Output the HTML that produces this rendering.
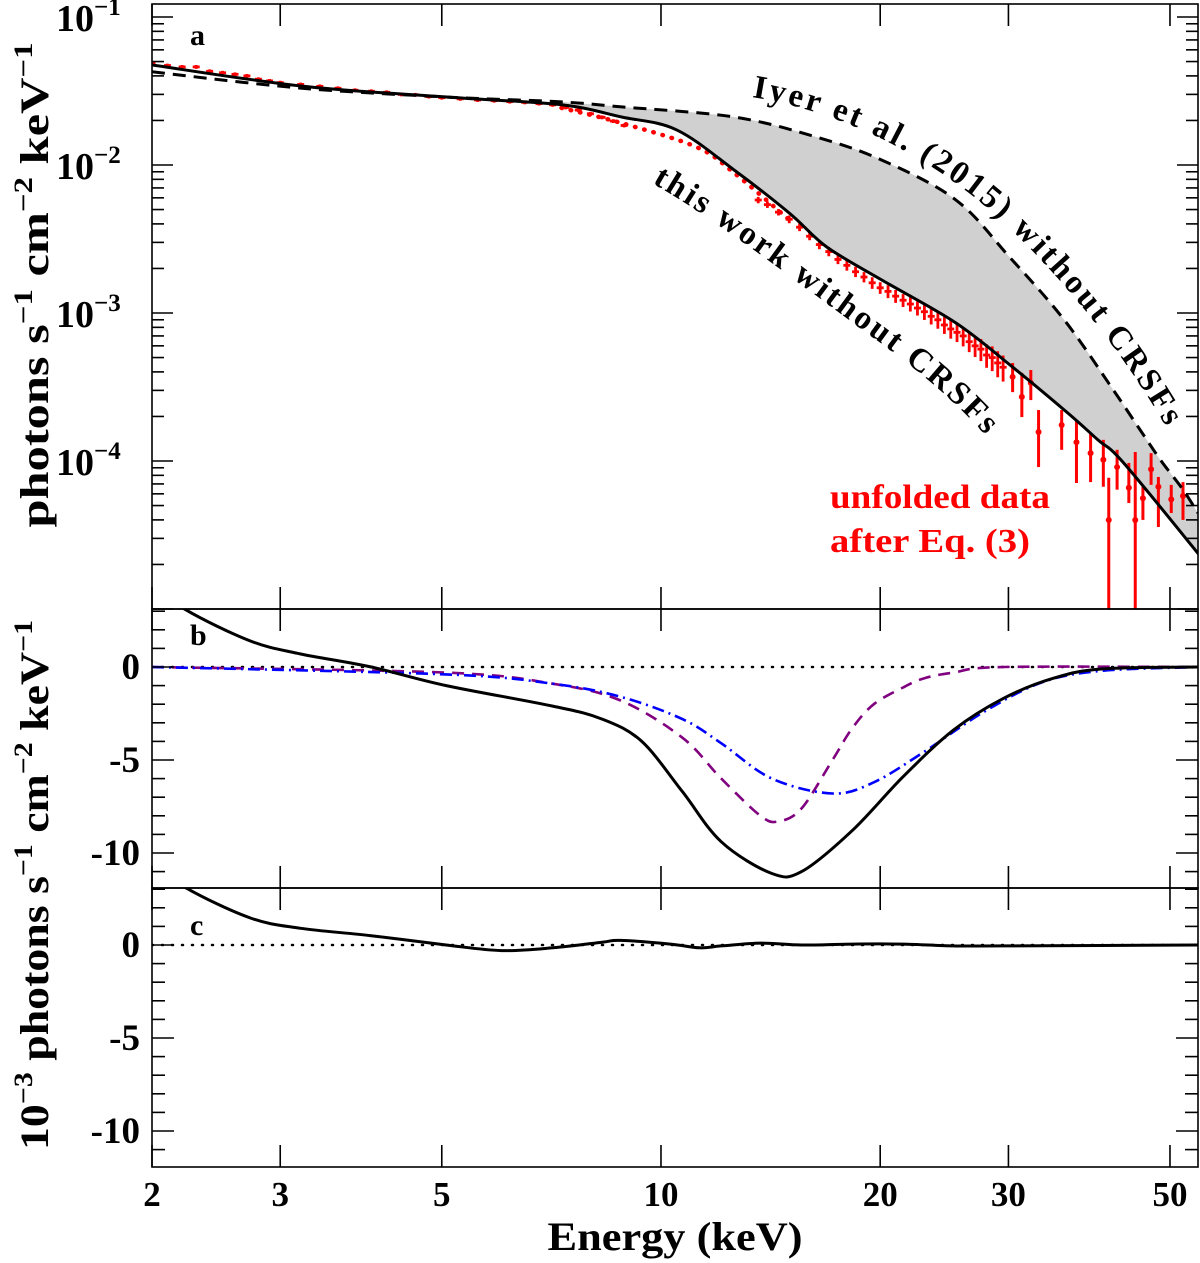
<!DOCTYPE html>
<html><head><meta charset="utf-8"><style>
html,body{margin:0;padding:0;background:#fff;}
svg{display:block;font-family:"Liberation Serif",serif;font-weight:bold;}
</style></head><body>
<svg id="chart" width="1200" height="1263" viewBox="0 0 1200 1263" xmlns="http://www.w3.org/2000/svg">
<defs>
<clipPath id="clipA"><rect x="152" y="4" width="1046" height="605"/></clipPath>
<clipPath id="clipB"><rect x="152" y="609" width="1046" height="279"/></clipPath>
<clipPath id="clipC"><rect x="152" y="888" width="1046" height="279"/></clipPath>
</defs>
</svg>
<script>
// ---------- data (panel a) ----------
const solidE=[2,3.2,5.07,7.3,8.83,10.5,12.6,15.0,16.9,20.1,25.4,30.4,36.2,39.8,43.2,55.3];
const solidF=[0.0474,0.0342,0.0288,0.0255,0.0211,0.0173,0.00925,0.00474,0.00279,0.00167,8.57e-4,4.31e-4,2.11e-4,1.39e-4,9.7e-5,2.21e-5];
const iyerE=[2,3.2,5.07,7.3,8.83,12.6,16.3,20.1,25.4,30.1,35.8,41.8,45.5,48.5,52.1,54.6];
const iyerF=[0.0426,0.0331,0.0288,0.0267,0.0247,0.0211,0.0155,0.0108,0.00581,0.00239,8.97e-4,3.02e-4,1.62e-4,1.02e-4,6.4e-5,4.46e-5];
const dotE=[7.3,8.83,11.2,12.6,15.0];
const dotF=[0.0243,0.0192,0.0132,0.00884,0.00426];
const lowE=[2.0,2.1,2.2,2.3,2.4,2.5,2.6,2.7,2.8,2.9,3.0,3.2,3.4,3.6,3.8,4.0,4.2,4.4,4.6,4.8,5.0,5.3,5.6,5.9,6.2,6.5,6.8,7.1,7.4,7.7,8.0,8.3,8.6,8.9,
 13.6,14,14.5,15,15.5,16,16.5,17,17.5,18,18.5,19,19.5,20,20.5,21,21.5,22,22.5,23,23.5,24,24.5,25,25.5,26,26.5,27,27.5,28,28.5,29,29.5];
const lowF=[0.049,0.047,0.046,0.046,0.043,0.042,0.041,0.040,0.038,0.037,0.036,0.035,0.034,0.033,0.032,0.0315,0.031,0.030,0.0298,0.029,0.0285,0.028,0.0275,0.0272,0.0268,0.0265,0.026,0.0255,0.0245,0.0235,0.0222,0.021,0.0198,0.0185,
 0.0058,0.0054,0.0048,0.0043,0.0038,0.0033,0.0029,0.0026,0.0023,0.0021,0.0019,0.00175,0.0016,0.00148,0.0014,0.0013,0.00122,0.00115,0.00108,0.00102,0.00095,0.0009,0.00083,0.00078,0.00074,0.0007,0.00064,0.0006,0.00057,0.00052,0.0005,0.00046,0.00043];
const lowRelErr=[0.03,0.03,0.03,0.03,0.03,0.03,0.03,0.03,0.03,0.03,0.03,0.03,0.03,0.03,0.03,0.03,0.03,0.03,0.03,0.03,0.03,0.03,0.03,0.03,0.03,0.03,0.03,0.03,0.03,0.03,0.03,0.03,0.03,0.03,
 0.05,0.05,0.05,0.06,0.06,0.06,0.07,0.07,0.07,0.08,0.08,0.08,0.09,0.09,0.1,0.1,0.1,0.11,0.11,0.12,0.12,0.13,0.13,0.14,0.14,0.15,0.15,0.16,0.17,0.18,0.19,0.2,0.2];
const hiE=[30.4,31.3,32.2,33.0,35.5,37.2,38.9,40.5,41.2,42.3,43.9,44.8,45.9,47.1,48.2,50.2,52.1];
const hiF=[3.70e-4,2.71e-4,3.37e-4,1.57e-4,1.75e-4,1.34e-4,1.13e-4,1.02e-4,3.99e-5,9.1e-5,6.6e-5,3.99e-5,5.6e-5,8.8e-5,6.7e-5,5.5e-5,5.8e-5];
const hiTop=[4.59e-4,3.94e-4,4.12e-4,2.21e-4,2.21e-4,1.89e-4,1.55e-4,1.39e-4,7.7e-5,1.19e-4,9.7e-5,1.15e-4,6.7e-5,1.13e-4,7.8e-5,6.9e-5,7.2e-5];
const hiBot=[2.92e-4,1.98e-4,2.58e-4,9.1e-5,1.19e-4,7.1e-5,7.2e-5,6.7e-5,1e-6,6.4e-5,5.2e-5,1e-6,4.0e-5,6.9e-5,3.58e-5,4.45e-5,4.0e-5];
// ---------- data (panel b) ----------
const bSolidE=[2.0,2.22,2.73,3.2,4.0,5.07,7.1,8.3,9.41,10.7,12.1,14.2,15.6,18.3,21.5,25.2,29.5,34.6,40.5,55.3];
const bSolidV=[4.5,3.1,1.4,0.7,0,-1.0,-2.1,-2.8,-4.0,-6.7,-9.4,-11.1,-11.0,-8.8,-5.9,-3.4,-1.7,-0.6,-0.1,0];
const bPurpE=[2,5.07,7.1,8.8,10.7,12.1,13.7,14.5,15.6,17.2,18.3,19.6,21.5,23,25.2,29.5,55.3];
const bPurpV=[0,-0.3,-0.9,-1.8,-3.8,-6.0,-8.0,-8.3,-7.6,-5.0,-3.3,-2.0,-1.1,-0.6,-0.3,0,0];
const bBlueE=[2,5.07,7.1,8.8,10.7,12.1,14.2,17.2,19.6,22.9,27.8,33.5,40.5,55.3];
const bBlueV=[0,-0.4,-0.9,-1.6,-2.8,-4.1,-6.0,-6.8,-6.2,-4.6,-2.4,-0.8,-0.2,0];
// ---------- data (panel c) ----------
const cE=[2.0,2.22,2.73,3.2,4.0,5.07,6.04,7.1,8.3,8.8,10.3,11.3,12.1,13.7,15.6,18.3,21.5,25.2,29.5,55.3];
const cV=[4.5,3.1,1.45,0.9,0.5,0,-0.3,-0.15,0.15,0.25,0.05,-0.15,-0.05,0.1,0,0.05,0.05,-0.05,-0.05,0];
// ---------- axes ----------
const xTicks=[2,3,5,10,20,30,50];
const aDecades=[-5,-4,-3,-2,-1];
const aLabels=["10","10","10","10"];
const bTicks=[0,-5,-10];

const X0=152,X1=1198,PXD=728.2;
const xs=E=>X0+PXD*(Math.log10(E)-Math.log10(2));
const yA=F=>17-148*(Math.log10(F)+1);
const yB=v=>667-18.6*v;
const yC=v=>945-18.6*v;

const svg=document.getElementById('chart');
const NS='http://www.w3.org/2000/svg';
function el(tag,attrs,parent){const e=document.createElementNS(NS,tag);for(const k in attrs)e.setAttribute(k,attrs[k]);(parent||svg).appendChild(e);return e;}
function smooth(pts){
  let d='M'+pts[0][0].toFixed(1)+','+pts[0][1].toFixed(1);
  for(let i=0;i<pts.length-1;i++){
    const p0=pts[i-1]||pts[i],p1=pts[i],p2=pts[i+1],p3=pts[i+2]||p2;
    const c1=[p1[0]+(p2[0]-p0[0])/6,p1[1]+(p2[1]-p0[1])/6];
    const c2=[p2[0]-(p3[0]-p1[0])/6,p2[1]-(p3[1]-p1[1])/6];
    d+='C'+c1.map(v=>v.toFixed(1))+' '+c2.map(v=>v.toFixed(1))+' '+p2[0].toFixed(1)+','+p2[1].toFixed(1);
  }
  return d;
}
const ptsOf=(Es,Vs,fy)=>Es.map((e,i)=>[xs(e),fy(Vs[i])]);

const gA=el('g',{'clip-path':'url(#clipA)'});


const iyPts=ptsOf(iyerE,iyerF,yA).filter(p=>p[0]>=xs(7.3));
const soPts=ptsOf(solidE,solidF,yA).filter(p=>p[0]>=xs(7.3));
const shadeD=smooth(iyPts)+smooth(soPts.slice().reverse()).replace('M','L')+'Z';
const shade=el('path',{d:shadeD,fill:'#d0d0d0',stroke:'none'},gA);


const dot=el('path',{d:smooth(ptsOf(dotE,dotF,yA)),fill:'none',stroke:'#ff0000','stroke-width':4.5,'stroke-dasharray':'0.5 9','stroke-linecap':'round'},gA);


const dataG=el('g',{stroke:'#ff0000',fill:'#ff0000','stroke-width':2.8},gA);


lowE.forEach((e,i)=>{
  const x=xs(e),f=lowF[i],r=lowRelErr[i];
  const l=el('line',{x1:x,x2:x,y1:yA(f*(1+r)),y2:yA(f*(1-r))},dataG);
  
  
  const h=el('line',{x1:x-3.5,x2:x+3.5,y1:yA(f),y2:yA(f)},dataG);
  
  
});
hiE.forEach((e,i)=>{
  const x=xs(e);
  const l=el('line',{x1:x,x2:x,y1:yA(hiTop[i]),y2:yA(hiBot[i]),'stroke-width':3},dataG);
  
  
  const c=el('circle',{cx:x,cy:yA(hiF[i]),r:3,stroke:'none'},dataG);
  
  
});
const iy=el('path',{d:smooth(ptsOf(iyerE,iyerF,yA)),fill:'none',stroke:'#000','stroke-width':3,'stroke-dasharray':'13 8'},gA);


const so=el('path',{d:smooth(ptsOf(solidE,solidF,yA)),fill:'none',stroke:'#000','stroke-width':3},gA);



const gB=el('g',{'clip-path':'url(#clipB)'});


const z1=el('line',{x1:X0,x2:X1,y1:yB(0),y2:yB(0),stroke:'#000','stroke-width':2.5,'stroke-dasharray':'1 9','stroke-linecap':'round'},gB);


const pp=el('path',{d:smooth(ptsOf(bPurpE,bPurpV,yB)),fill:'none',stroke:'#800080','stroke-width':2.6,'stroke-dasharray':'12 8'},gB);


const bl=el('path',{d:smooth(ptsOf(bBlueE,bBlueV,yB)),fill:'none',stroke:'#0000ff','stroke-width':2.6,'stroke-dasharray':'12 5 2 5'},gB);


const bs=el('path',{d:smooth(ptsOf(bSolidE,bSolidV,yB)),fill:'none',stroke:'#000','stroke-width':3},gB);



const gC=el('g',{'clip-path':'url(#clipC)'});


const z2=el('line',{x1:X0,x2:X1,y1:yC(0),y2:yC(0),stroke:'#000','stroke-width':2.5,'stroke-dasharray':'1 9','stroke-linecap':'round'},gC);


const cs=el('path',{d:smooth(ptsOf(cE,cV,yC)),fill:'none',stroke:'#000','stroke-width':3},gC);



const axG=el('g',{stroke:'#000','stroke-width':1.6,fill:'none'});


[[4,609],[609,888],[888,1167]].forEach(([t,b])=>{
  const r=el('rect',{x:X0,y:t,width:X1-X0,height:b-t},axG);
  
  
  xTicks.forEach(e=>{
    const x=xs(e);
    const t1=el('line',{x1:x,x2:x,y1:t,y2:t+22},axG);
    
    
    const t2=el('line',{x1:x,x2:x,y1:b,y2:b-22},axG);
    
    
  });
});
aDecades.forEach(d=>{
  for(let m=1;m<10;m++){
    const y=yA(m*Math.pow(10,d));
    if(y<4||y>609) continue;
    const len=m===1?21:12;
    const a=el('line',{x1:X0,x2:X0+len,y1:y,y2:y},axG);
    
    
    const b=el('line',{x1:X1,x2:X1-len,y1:y,y2:y},axG);
    
    
  }
});
[[yB,609,888],[yC,888,1167]].forEach(([fy,t,b])=>{
  for(let v=-12;v<=3;v++){
    const y=fy(v); if(y<=t||y>=b) continue;
    const len=(v%5===0)?22:13;
    const a=el('line',{x1:X0,x2:X0+len,y1:y,y2:y},axG);
    
    
    const c=el('line',{x1:X1,x2:X1-len,y1:y,y2:y},axG);
    
    
  }
});
const txG=el('g',{fill:'#000','font-size':35});


xTicks.forEach(e=>{
  const t=el('text',{x:xs(e),y:1206,'text-anchor':'middle'},txG);
  t.textContent=String(e);
  
  
});
[-1,-2,-3,-4].forEach((d,i)=>{
  const y=yA(Math.pow(10,d));
  const t=el('text',{x:56,y:y+14,'font-size':38},txG);
  t.textContent=aLabels[i];
  
  
  const s=el('tspan',{dy:-16,'font-size':25},t);
  s.textContent='−'+(-d);
});
[[yB],[yC]].forEach(([fy])=>{
  bTicks.forEach(v=>{
    const t=el('text',{x:140,y:fy(v)+12,'text-anchor':'end','font-size':37},txG);
    t.textContent=String(v);
    
    
  });
});
function addText(str,attrs,name){const t=el('text',attrs);t.textContent=str;return t;}
addText('a',{x:190,y:45,'font-size':30},'panel-label-a');
addText('b',{x:190,y:645,'font-size':30},'panel-label-b');
addText('c',{x:190,y:935,'font-size':30},'panel-label-c');
addText('Energy (keV)',{x:675,y:1250,'font-size':40,'text-anchor':'middle',textLength:255,lengthAdjust:'spacingAndGlyphs'},'x-axis-title');
const ya=addText('',{x:0,y:0,'font-size':40,'text-anchor':'middle',transform:'translate(48,285) rotate(-90)',textLength:485,lengthAdjust:'spacingAndGlyphs'},'y-axis-title-a');
ya.innerHTML='photons s<tspan dy="-16" font-size="26">−1</tspan><tspan dy="16"> cm</tspan><tspan dy="-16" font-size="26">−2</tspan><tspan dy="16"> keV</tspan><tspan dy="-16" font-size="26">−1</tspan>';
const yb=addText('',{x:0,y:0,'font-size':40,'text-anchor':'middle',transform:'translate(48,885) rotate(-90)',textLength:530,lengthAdjust:'spacingAndGlyphs'},'y-axis-title-bc');
yb.innerHTML='10<tspan dy="-16" font-size="26">−3</tspan><tspan dy="16"> photons s</tspan><tspan dy="-16" font-size="26">−1</tspan><tspan dy="16"> cm</tspan><tspan dy="-16" font-size="26">−2</tspan><tspan dy="16"> keV</tspan><tspan dy="-16" font-size="26">−1</tspan>';
addText('unfolded data',{x:830,y:508,'font-size':34,fill:'#ff0000',textLength:220,lengthAdjust:'spacingAndGlyphs'},'data-annotation-line1');
addText('after Eq. (3)',{x:830,y:552,'font-size':34,fill:'#ff0000',textLength:200,lengthAdjust:'spacingAndGlyphs'},'data-annotation-line2');
const p1=el('path',{id:'iyerPath',d:'M752,97 C850,113 940,162 1010,228 C1070,288 1120,348 1168,430',fill:'none',stroke:'none'});
const p2=el('path',{id:'thisPath',d:'M652,183 C720,222 790,277 860,328 C910,364 950,395 988,438',fill:'none',stroke:'none'});
const t1=el('text',{'font-size':33});


const tp1=el('textPath',{href:'#iyerPath',textLength:Math.round(p1.getTotalLength()-4),lengthAdjust:'spacing'},t1);tp1.textContent='Iyer et al. (2015) without CRSFs';
const t2=el('text',{'font-size':33});


const tp2=el('textPath',{href:'#thisPath',textLength:Math.round(p2.getTotalLength()-4),lengthAdjust:'spacing'},t2);tp2.textContent='this work without CRSFs';
</script>
</body></html>
